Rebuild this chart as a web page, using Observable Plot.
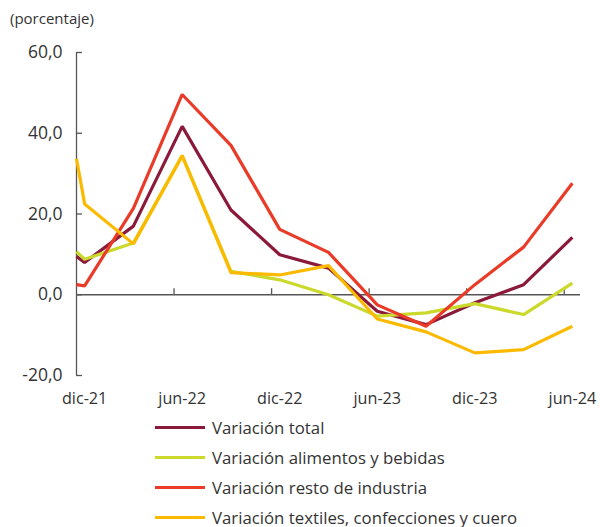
<!DOCTYPE html>
<html><head><meta charset="utf-8">
<script src="https://cdn.jsdelivr.net/npm/d3@7"></script>
<script src="https://cdn.jsdelivr.net/npm/@observablehq/plot@0.6"></script>
<style>
body{margin:0;background:#fff;font-family:"Open Sans",sans-serif;color:#333;}
#wrap{position:relative;width:600px;height:527px;overflow:hidden;}
#unit{position:absolute;left:10px;top:8px;font-size:15px;}
#chart{position:absolute;left:0;top:30px;}
#legend{position:absolute;left:155px;top:412px;font-size:16.8px;}
.row{display:flex;align-items:center;height:30px;}
.sw{width:50px;height:3px;margin-right:7px;}
</style></head>
<body><div id="wrap"><div id="unit">(porcentaje)</div><div id="chart"></div><div id="legend"></div></div>
<script>
// months since start of dic-21
const t = [0, 0.5, 3.5, 6.5, 9.5, 12.5, 15.5, 18.5, 21.5, 24.5, 27.5, 30.5];
const total      = [9.5, 8.0, 17.0, 41.7, 21.0, 9.9, 6.6, -4.1, -7.4, -2.0, 2.5, 14.2];
const alimentos  = [10.7, 8.8, 12.8, 34.5, 5.8, 3.7, 0.0, -5.3, -4.5, -2.2, -4.9, 2.9];
const resto      = [2.5, 2.2, 21.4, 49.6, 37.0, 16.2, 10.5, -2.5, -7.8, 2.5, 11.8, 27.6];
const textiles   = [33.7, 22.5, 12.6, 34.4, 5.5, 4.9, 7.2, -6.0, -9.2, -14.4, -13.6, -7.8];
const seriesNames = ["Variación total", "Variación alimentos y bebidas", "Variación resto de industria", "Variación textiles, confecciones y cuero"];
const seriesColors = ["#8B1A3A", "#CBD82C", "#E93B27", "#FBBA00"];
const yTicks = [-20, 0, 20, 40, 60];
const xTickPos = [0, 6, 12, 18, 24, 30];
const xLabelPos = [0.5, 6.5, 12.5, 18.5, 24.5, 30.5];
const xLabels = ["dic-21", "jun-22", "dic-22", "jun-23", "dic-23", "jun-24"];

const allVals = [total, alimentos, resto, textiles];
const data = [];
allVals.forEach((vals, s) => vals.forEach((v, i) => data.push({t: t[i], v, s: seriesNames[s]})));

const plot = Plot.plot({
  width: 600, height: 385,
  marginTop: 22, marginBottom: 40, marginLeft: 76, marginRight: 20,
  style: {fontFamily: "Open Sans, sans-serif", fontSize: "16px", color: "#333", background: "transparent", overflow: "visible"},
  x: {domain: [0, 31], label: null},
  y: {domain: [-20, 60], label: null},
  color: {domain: seriesNames, range: seriesColors},
  marks: [
    Plot.ruleX([0], {y1: -20, y2: 60, stroke: "#555", strokeWidth: 1.3}),
    Plot.ruleY([0], {stroke: "#555", strokeWidth: 1.3}),
    Plot.ruleY(yTicks, {y: d => d, x1: 0, x2: 0, insetLeft: 0, insetRight: -6, stroke: "#555", strokeWidth: 1.3}),
    Plot.ruleX(xTickPos.slice(1), {x: d => d, y1: 0, y2: 0, insetTop: 0, insetBottom: 6, stroke: "#555", strokeWidth: 1.3}),
    Plot.axisY({ticks: yTicks, tickSize: 0, tickPadding: 14, label: null, tickFormat: d => d.toFixed(1).replace(".", ","), fontSize: 17.5}),
    Plot.axisX({ticks: xLabelPos, tickSize: 0, tickPadding: 17, label: null, tickFormat: d => xLabels[xLabelPos.indexOf(d)], fontSize: 16.2}),
    Plot.line(data, {x: "t", y: "v", z: "s", stroke: "s", strokeWidth: 3.2, strokeLinejoin: "miter", strokeLinecap: "butt"})
  ]
});
document.getElementById("chart").appendChild(plot);

const leg = document.getElementById("legend");
seriesNames.forEach((n, i) => {
  const r = document.createElement("div"); r.className = "row";
  const sw = document.createElement("div"); sw.className = "sw"; sw.style.background = seriesColors[i];
  const tx = document.createElement("span"); tx.textContent = n;
  r.appendChild(sw); r.appendChild(tx); leg.appendChild(r);
});
</script></body></html>
